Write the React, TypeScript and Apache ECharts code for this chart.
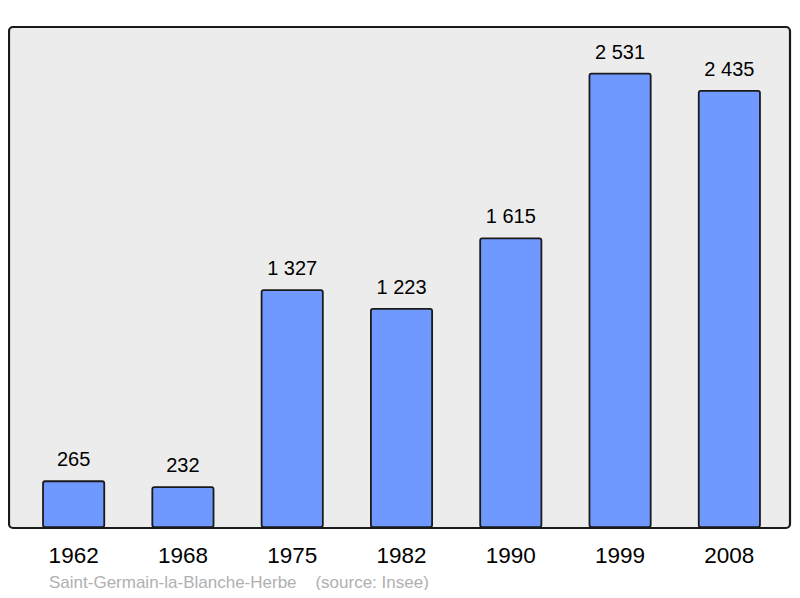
import React, { useEffect, useRef } from "react";
import * as echarts from "echarts";

const years = ["1962", "1968", "1975", "1982", "1990", "1999", "2008"];
const population = [265, 232, 1327, 1223, 1615, 2531, 2435];
const sourceText = "Saint-Germain-la-Blanche-Herbe    (source: Insee)";

const fmt = (v: number) => String(v).replace(/\B(?=(\d{3})+(?!\d))/g, " ");

export default function App() {
  const ref = useRef<HTMLDivElement>(null);
  useEffect(() => {
    if (!ref.current) return;
    const chart = echarts.init(ref.current, null, { renderer: "svg" });
    chart.setOption({
      animation: false,
      textStyle: { fontFamily: "Liberation Sans, Arial, sans-serif" },
      graphic: [
        {
          type: "rect",
          z: -10,
          shape: { x: 9, y: 27, width: 781, height: 501, r: 4 },
          style: { fill: "#ececec", stroke: "#1a1a1a", lineWidth: 2.2 },
        },
        {
          type: "text",
          left: 49,
          top: 574,
          style: {
            text: sourceText,
            fill: "#b0b0b0",
            font: "17px Liberation Sans, Arial, sans-serif",
          },
        },
      ],
      grid: { left: 19, right: 16, top: 27, bottom: 70 },
      xAxis: {
        type: "category",
        data: years,
        axisLine: { show: false },
        axisTick: { show: false },
        axisLabel: {
          margin: 16,
          fontSize: 22.5,
          color: "#000",
          fontFamily: "Liberation Sans, Arial, sans-serif",
        },
      },
      yAxis: {
        type: "value",
        min: 0,
        max: 2785,
        show: false,
        splitLine: { show: false },
      },
      series: [
        {
          type: "bar",
          data: population,
          barWidth: 63,
          itemStyle: {
            color: "#7099ff",
            borderColor: "#1a1a1a",
            borderWidth: 1.8,
            borderRadius: 2,
          },
          label: {
            show: true,
            position: "top",
            distance: 11,
            fontSize: 20,
            color: "#000",
            fontFamily: "Liberation Sans, Arial, sans-serif",
            formatter: (p: any) => fmt(p.value),
          },
        },
      ],
    });
    return () => chart.dispose();
  }, []);
  return <div ref={ref} style={{ width: 800, height: 598, margin: -8 }} />;
}
